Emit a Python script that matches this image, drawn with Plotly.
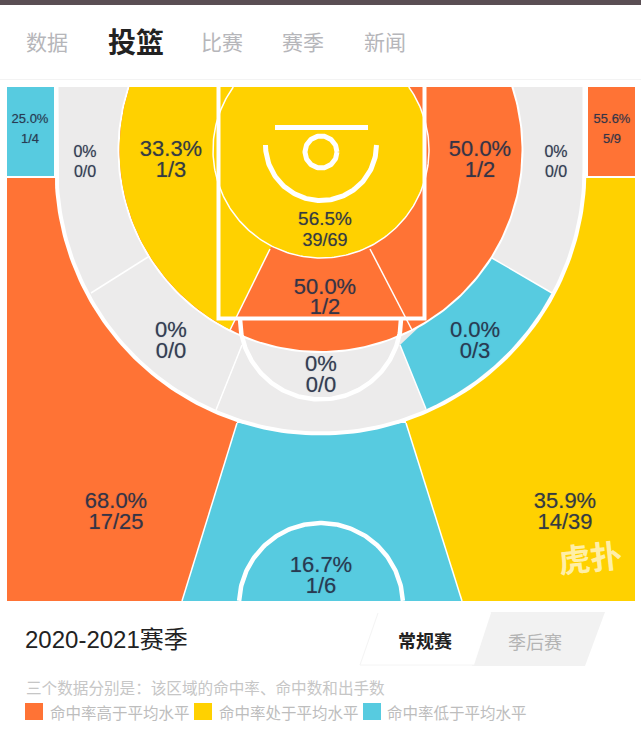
import numpy as np
import plotly.graph_objects as go

# ---------- data ----------
tabs = ["数据", "投篮", "比赛", "赛季", "新闻"]
season = "2020-2021赛季"
season_tabs = ["常规赛", "季后赛"]
note = "三个数据分别是：该区域的命中率、命中数和出手数"
legend_labels = ["命中率高于平均水平", "命中率处于平均水平", "命中率低于平均水平"]

zones = ["left_corner", "right_corner", "left_wing_far", "right_wing_far", "left_mid", "right_mid",
         "paint", "ft", "left_long", "top_long", "right_long", "left_three", "right_three", "top_three"]
pct = ["25.0%", "55.6%", "0%", "0%", "33.3%", "50.0%", "56.5%", "50.0%", "0%", "0%", "0.0%", "68.0%", "35.9%", "16.7%"]
shots = ["1/4", "5/9", "0/0", "0/0", "1/3", "1/2", "39/69", "1/2", "0/0", "0/0", "0/3", "17/25", "14/39", "1/6"]

# ---------- style / layout ----------
ORANGE, YELLOW, BLUE, GRAY = "#FF7335", "#FFD100", "#57CBE0", "#ECEBEB"
INK = "rgba(38,48,72,0.9)"
FONT = "Liberation Sans, Noto Sans CJK SC"
CJK = "Noto Sans CJK SC, Liberation Sans"
label_x = [30, 612, 85, 556, 171, 480, 325, 325, 171, 321, 475, 116, 565, 321]
pct_y = [119.5, 119.5, 152.5, 152.5, 150.5, 150.5, 220.5, 288.5, 331.5, 365.5, 331.5, 502.5, 502.5, 566.5]
shot_y = [139.5, 139.5, 172.5, 172.5, 171, 171, 241.5, 308, 352, 386, 352, 523, 523, 587]
pct_size = [13, 13, 16, 16, 22, 22, 19, 22, 22, 22, 22, 22, 22, 22]
shot_size = [13, 13, 16, 16, 22, 22, 18, 22, 22, 22, 22, 22, 22, 22]

fig = go.Figure()


def poly(x, y, color):
    fig.add_trace(go.Scatter(x=list(x), y=list(y), mode="lines", fill="toself", fillcolor=color,
                             line=dict(width=0, color=color), hoverinfo="skip", showlegend=False))


def stroke(x, y, width=1.5, color="white"):
    fig.add_trace(go.Scatter(x=list(x), y=list(y), mode="lines", line=dict(width=width, color=color),
                             hoverinfo="skip", showlegend=False))


def arc(cx, cy, r, a0, a1, n=140):
    t = np.linspace(a0, a1, n)
    return cx + r * np.cos(t), cy + r * np.sin(t)


def ang(cx, cy, x, y):
    return np.arctan2(y - cy, x - cx)


TOP, BOT = 87, 601
# outer cells
poly([7, 54, 54, 7], [TOP, TOP, 176, 176], BLUE)
poly([588, 635, 635, 588], [TOP, TOP, 176, 176], ORANGE)
poly([7, 240, 237, 182, 7], [178, 178, 423, BOT, BOT], ORANGE)
poly([635, 400, 406, 462, 635], [178, 178, 423, BOT, BOT], YELLOW)
poly([237, 182, 462, 406], [423, BOT, BOT, 423], BLUE)
stroke([237, 182], [423, BOT])
stroke([406, 462], [423, BOT])
ax, ay = arc(321, 605, 82, np.pi + 0.05, 2 * np.pi - 0.05)
stroke(ax, ay, 4.5)

# three-point ring
RCX, RCY = 320.5, 169.5
for R, col in ((266, "white"), (262, GRAY)):
    ax, ay = arc(RCX, RCY, R, np.pi, 0)
    poly(np.r_[RCX - R, ax, RCX + R], np.r_[TOP, ay, TOP], col)
a0 = ang(RCX, RCY, 552, 293)
a1 = ang(RCX, RCY, 426, 409)
ax, ay = arc(RCX, RCY, 262, a0, a1, 60)
poly(np.r_[ax, 400, 492], np.r_[ay, 345, 258], BLUE)
for xs, ys in (([148, 91], [257, 293]), ([242, 216], [345, 410]), ([492, 552], [258, 293]), ([400, 426], [345, 409])):
    stroke(xs, ys, 1.5)

# mid-range disk
MCX, MCY, MR = 320.5, 150, 201
top_ang = np.arcsin((TOP - MCY) / MR)
ax, ay = arc(MCX, MCY, MR + 2, np.pi - top_ang, top_ang, 200)
poly(ax, ay, "white")
ax, ay = arc(MCX, MCY, MR, np.pi - top_ang, top_ang, 200)
poly(ax, ay, ORANGE)
a_end = ang(MCX, MCY, 230, 330)
ax, ay = arc(MCX, MCY, MR, np.pi - top_ang, a_end, 100)
poly(np.r_[ax, 270, 320, 320], np.r_[ay, 249, 150, TOP], YELLOW)
stroke([270, 230], [249, 330], 1.5)
stroke([370, 412], [249, 330], 1.5)

# restricted disk
DCX, DCY, DR = 321, 150, 108
t0 = np.arcsin((TOP - DCY) / DR)
ax, ay = arc(DCX, DCY, DR, np.pi - t0, t0, 200)
poly(np.clip(ax, None, 423), ay, YELLOW)
stroke(ax, ay, 1.5)

# court lines
stroke([218.5, 218.5, 424.5, 424.5], [TOP, 318.5, 318.5, TOP], 4)
ax, ay = arc(320.5, 319, 80.5, 0, np.pi)
stroke(ax, ay, 4.5)
ax, ay = arc(321, 145, 55.5, 0, np.pi)
stroke(ax, ay, 5)
stroke([275, 368], [127.5, 127.5], 5)
ax, ay = arc(321, 152, 16, 0, 2 * np.pi)
stroke(ax, ay, 5)

# zone labels
for ys, sizes, texts in ((pct_y, pct_size, pct), (shot_y, shot_size, shots)):
    fig.add_trace(go.Scatter(x=label_x, y=ys, mode="text", text=texts,
                             textfont=dict(family=FONT, size=sizes, color=INK,
                                           shadow="0 0 1px rgba(38,48,72,0.55)"),
                             textposition="middle center", hoverinfo="skip", showlegend=False))

# header
poly([0, 641, 641, 0], [0, 0, 5, 5], "#5A4E54")
stroke([0, 641], [79.5, 79.5], 1, "#F3F3F3")
tab_x = [47, 136, 222, 303, 385]
for i, (t, x) in enumerate(zip(tabs, tab_x)):
    on = i == 1
    fig.add_annotation(x=x, y=40.5, text=f"<b>{t}</b>" if on else t, showarrow=False,
                       font=dict(family=CJK, size=28 if on else 21, color="#222222" if on else "#B6B6BA"))

# footer
fig.add_annotation(x=23, y=639, text=season, xanchor="left", showarrow=False,
                   font=dict(family=FONT, size=24, color="#222222"))
poly([491, 605, 585, 472], [612, 612, 666, 666], "#F2F2F2")
poly([378, 491, 474, 360], [613, 613, 665, 665], "white")
stroke([378, 360, 474], [613, 665, 665], 1, "#F4F4F4")
fig.add_annotation(x=425, y=640, text=f"<b>{season_tabs[0]}</b>", showarrow=False,
                   font=dict(family=CJK, size=18, color="#222222"))
fig.add_annotation(x=535, y=641, text=season_tabs[1], showarrow=False,
                   font=dict(family=CJK, size=18, color="#B4B4B4"))
fig.add_annotation(x=24, y=687, text=note, xanchor="left", showarrow=False,
                   font=dict(family=CJK, size=15.6, color="#C6C6C6"))
for x0, tx, col, t in zip([25, 194, 363], [48, 217, 385], [ORANGE, YELLOW, BLUE], legend_labels):
    poly([x0, x0 + 18, x0 + 18, x0], [703, 703, 720, 720], col)
    fig.add_annotation(x=tx, y=712, text=t, xanchor="left", showarrow=False,
                       font=dict(family=CJK, size=15.5, color="#BDBDBD"))

# watermark
fig.add_annotation(x=590, y=556, text="<b>虎扑</b>", showarrow=False, textangle=-6,
                   font=dict(family=CJK, size=32, color="rgba(255,255,255,0.68)"))

fig.update_layout(width=641, height=732, margin=dict(l=0, r=0, t=0, b=0), paper_bgcolor="white",
                  plot_bgcolor="white", showlegend=False,
                  xaxis=dict(range=[0, 641], visible=False, fixedrange=True),
                  yaxis=dict(range=[732, 0], visible=False, fixedrange=True))
fig.write_html("out.html", config={"displayModeBar": False},
               post_script="document.body.style.margin='0';document.body.style.overflow='hidden';")
